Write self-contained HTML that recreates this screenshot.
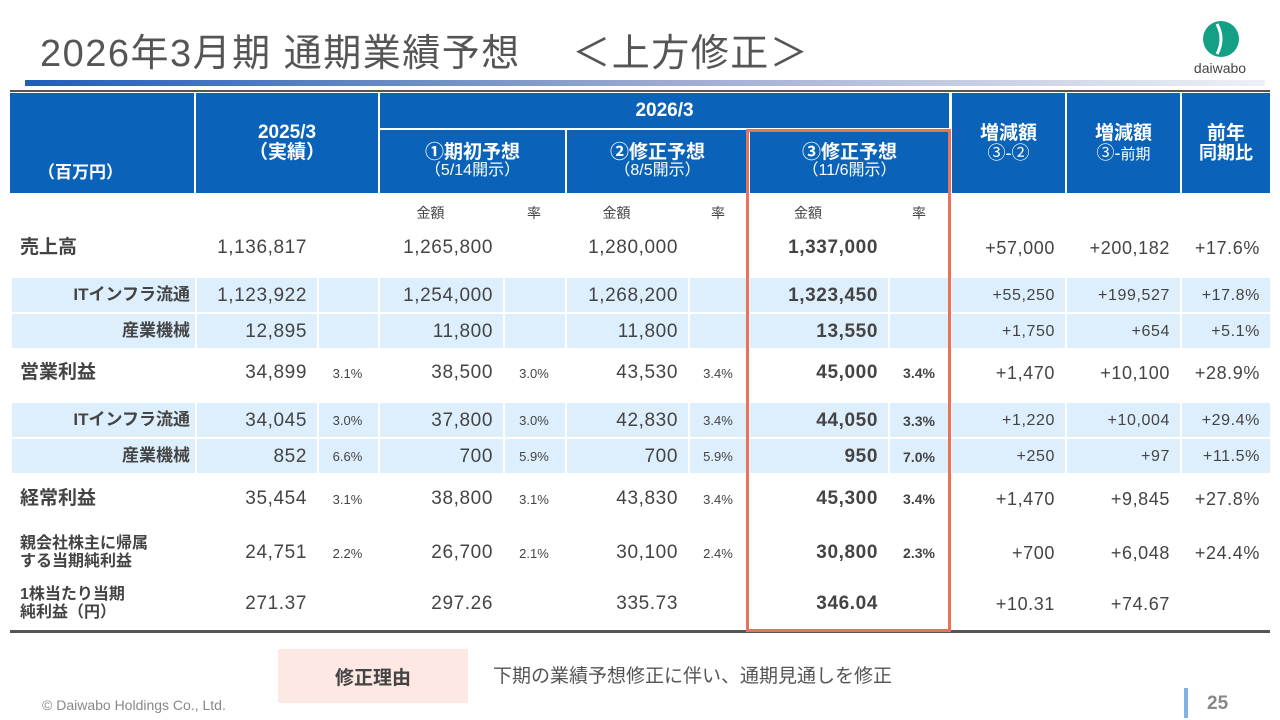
<!DOCTYPE html>
<html lang="ja"><head><meta charset="utf-8">
<style>
body{margin:0;width:1280px;height:720px;background:#fff;position:relative;overflow:hidden;font-family:"Liberation Sans","Noto Sans CJK JP",sans-serif;color:#444}
.a{position:absolute;box-sizing:border-box}
.hd{background:#0a63b8;color:#fff;font-weight:bold;text-align:center;display:flex;flex-direction:column;justify-content:center;line-height:1.05}
.band{background:#ddeefc}
.t{position:absolute;white-space:nowrap}
</style></head><body>
<div class="t" style="left:40px;top:22px;font-size:38px;letter-spacing:1.5px;color:#555">2026年3月期 通期業績予想　 ＜上方修正＞</div>
<div class="a" style="left:25px;top:80px;width:1240px;height:6px;background:linear-gradient(90deg,#1f5fb0,#9aa8d0 50%,#eef0f6)"></div>
<div class="a" style="left:1180px;top:18px;width:80px;height:60px">
<svg width="80" height="60"><ellipse cx="41" cy="21" rx="18" ry="18" fill="#14a086"/><path d="M37 6 Q45 21 37 36" stroke="#fff" stroke-width="3" fill="none"/><text x="40" y="55" font-size="14" text-anchor="middle" fill="#444" font-family="Liberation Sans">daiwabo</text></svg></div>
<div class="a" style="left:10px;top:90px;width:1260px;height:2px;background:#555"></div>
<div id="tbl"></div>
<div class="a" style="left:10px;top:630px;width:1260px;height:3px;background:#555"></div>
<div class="a" style="left:746px;top:129px;width:205px;height:503px;border:3px solid #e8735a"></div>
<div class="a" style="left:278px;top:649px;width:190px;height:54px;background:#fde8e4;font-weight:bold;font-size:19px;display:flex;align-items:center;justify-content:center">修正理由</div>
<div class="t" style="left:493px;top:661px;font-size:19px;color:#555">下期の業績予想修正に伴い、通期見通しを修正</div>
<div class="t" style="left:42px;top:697px;font-size:14px;color:#888">© Daiwabo Holdings Co., Ltd.</div>
<div class="a" style="left:1184px;top:688px;width:4px;height:30px;background:#7fb2e8"></div>
<div class="t" style="left:1207px;top:693px;font-size:19px;font-weight:bold;color:#888">25</div>
<script>
const xs=[10,195,317,378,503,565,688,748,888,950,1065,1180,1270];
const labels=["売上高","ITインフラ流通","産業機械","営業利益","ITインフラ流通","産業機械","経常利益","親会社株主に帰属\nする当期純利益","1株当たり当期\n純利益（円）"];
const sub=[0,1,1,0,1,1,0,0,0];
const rowY=[228,278,314,350,403,439,476,524,580];
const rowH=[40,35,35,46,35,35,46,58,48];
const actual=["1,136,817","1,123,922","12,895","34,899","34,045","852","35,454","24,751","271.37"];
const actualR=["","","","3.1%","3.0%","6.6%","3.1%","2.2%",""];
const f1=["1,265,800","1,254,000","11,800","38,500","37,800","700","38,800","26,700","297.26"];
const f1R=["","","","3.0%","3.0%","5.9%","3.1%","2.1%",""];
const f2=["1,280,000","1,268,200","11,800","43,530","42,830","700","43,830","30,100","335.73"];
const f2R=["","","","3.4%","3.4%","5.9%","3.4%","2.4%",""];
const f3=["1,337,000","1,323,450","13,550","45,000","44,050","950","45,300","30,800","346.04"];
const f3R=["","","","3.4%","3.3%","7.0%","3.4%","2.3%",""];
const d32=["+57,000","+55,250","+1,750","+1,470","+1,220","+250","+1,470","+700","+10.31"];
const dPrev=["+200,182","+199,527","+654","+10,100","+10,004","+97","+9,845","+6,048","+74.67"];
const yoy=["+17.6%","+17.8%","+5.1%","+28.9%","+29.4%","+11.5%","+27.8%","+24.4%",""];
const T=document.getElementById('tbl');
function box(x,y,w,h,cls,html){const d=document.createElement('div');d.className='a '+cls;d.style.cssText=`left:${x}px;top:${y}px;width:${w}px;height:${h}px`;d.innerHTML=html;T.appendChild(d);return d;}
let e;
e=box(10,93,184,100,'hd','<div style="text-align:left;padding:60px 0 0 28px;font-size:17px">（百万円）</div>');


e=box(196,93,182,100,'hd','<div style="font-size:19px">2025/3<br>（実績）</div>');


e=box(380,93,569,35,'hd','<div style="font-size:19px">2026/3</div>');


const subH=[["①期初予想","（5/14開示）"],["②修正予想","（8/5開示）"],["③修正予想","（11/6開示）"]];
const subX=[[380,185],[567,181],[750,199]];
for(let i=0;i<3;i++){e=box(subX[i][0],130,subX[i][1],63,'hd',`<div style="font-size:19px">${subH[i][0]}</div><div style="font-weight:normal;font-size:16px">${subH[i][1]}</div>`);

}
const rH=[["増減額","③-②"],["増減額","③-<small>前期</small>"],["前年","同期比"]];
for(let i=0;i<3;i++){e=box(xs[9+i]+2,93,xs[10+i]-xs[9+i]-2,100,'hd',`<div style="font-size:19px">${rH[i][0]}</div><div style="font-size:18px;font-weight:${i==2?'bold':'normal'}">${rH[i][1]}</div>`);

}
const subLbl=[[3,"金額"],[4,"率"],[5,"金額"],[6,"率"],[7,"金額"],[8,"率"]];
subLbl.forEach(([c,s])=>{e=box(xs[c],203,xs[c+1]-xs[c]-(s=="金額"?20:0),20,'',`<div style="text-align:center;font-size:14px">${s}</div>`);

});
const cols=[actual,actualR,f1,f1R,f2,f2R,f3,f3R,d32,dPrev,yoy];
for(let r=0;r<9;r++){
 const y=rowY[r],h=rowH[r],s=sub[r];
 if(s){for(let c=0;c<12;c++){e=box(xs[c]+2,y,xs[c+1]-xs[c]-2,h-1,'band','');
 
 }}
 const lbl=labels[r].replace('\n','<br>');
 const two=labels[r].includes('\n');
 e=box(s?10:20,y,180,h,'',`<div style="height:100%;display:flex;align-items:center;${s?'justify-content:flex-end;':''}font-weight:bold;font-size:${two?16:s?17:19}px;line-height:1.1">${lbl}</div>`);
 
 
 cols.forEach((arr,k)=>{const c=k+1;const rate=(k%2==1&&k<8);const v=arr[r];if(!v)return;
  const bold=(k==6||k==7);
  const fs=rate?(bold?14:13):(k>=8?(s?16:18):19);
  const pr=10;
  e=box(xs[c],y,xs[c+1]-xs[c],h,'',`<div style="height:100%;display:flex;align-items:center;justify-content:${rate?'center':'flex-end'};padding-right:${rate?0:pr}px;font-size:${fs}px;letter-spacing:${rate?0:0.6}px;${bold?'font-weight:bold;':''}">${v}</div>`);
  
  });
}
</script>
</body></html>
